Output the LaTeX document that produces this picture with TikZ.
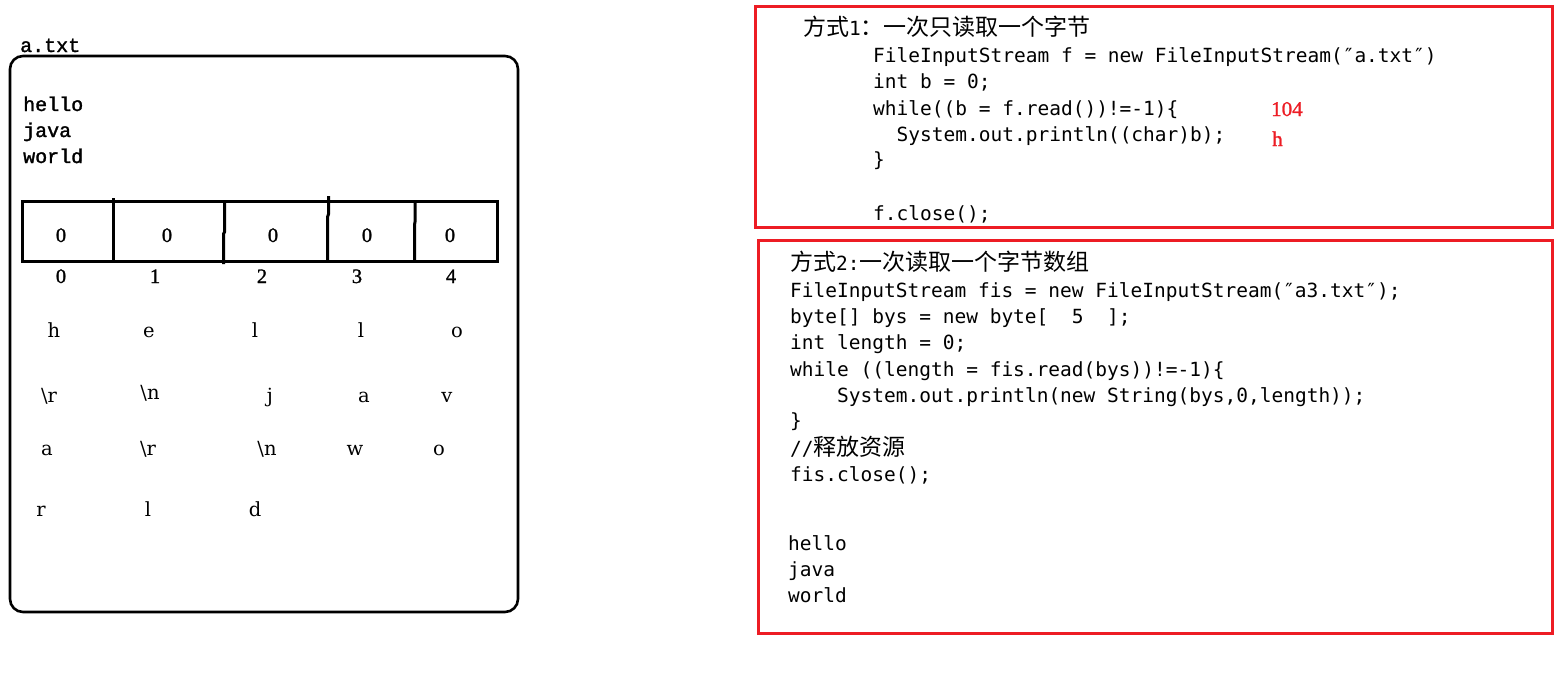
\documentclass[tikz,border=0pt]{standalone}
\usepackage{fontspec}
\newfontfamily\codef{DejaVu Sans Mono}
\newfontfamily\monof[FakeBold=1.5]{Liberation Mono}
\newfontfamily\serf[FakeBold=1.2]{Liberation Serif}
\newfontfamily\serl{DejaVu Serif}
\newfontfamily\cjkf{Noto Sans CJK SC}
\newcommand\zh[1]{{\cjkf\fontsize{23}{23}\selectfont #1}}
\definecolor{boxred}{RGB}{237,28,36}
\tikzset{
  code/.style={anchor=base west, inner sep=0pt, font=\codef\fontsize{19.5}{20}\selectfont},
  monotxt/.style={anchor=base west, inner sep=0pt, font=\monof\fontsize{20}{20}\selectfont},
  cell/.style={anchor=base, inner sep=0pt, font=\serf\fontsize{20.5}{20.5}\selectfont},
  letter/.style={anchor=base, inner sep=0pt, font=\serl\fontsize{19.5}{19.5}\selectfont},
  redtxt/.style={anchor=base west, inner sep=0pt, text=boxred, font=\serf\fontsize{21}{21}\selectfont},
  redbox/.style={draw=boxred, line width=3pt},
  filebox/.style={draw=black, line width=2.6pt, rounded corners=13pt},
  arr/.style={draw=black, line width=3pt},
}
\begin{document}
\begin{tikzpicture}[x=1pt,y=-1pt]
\useasboundingbox (0,0) rectangle (1561,688);
\fill[white] (0,0) rectangle (1561,688);

% ---------- left: file a.txt ----------
\node[monotxt] (fname) at (20,52) {a.txt};
\draw[filebox] (10,56) rectangle (518,612);
\node[monotxt] (t1) at (23,111) {hello};
\node[monotxt] (t2) at (23,137) {java};
\node[monotxt] (t3) at (23,163) {world};

% byte array
\draw[arr] (22,201) rectangle (497,261);
\draw[arr] (113.5,198) -- (113.5,261);
\draw[arr] (224.5,201) -- (224.5,232) -- (223.5,234) -- (223.5,264);
\draw[arr] (328.5,196) -- (328.5,214) -- (327.5,217) -- (327.5,261);
\draw[arr] (415,201) -- (415,222) -- (414.5,225) -- (414.5,261);

\node[cell] (z0) at (61,242) {0};
\node[cell] (z1) at (167,242) {0};
\node[cell] (z2) at (273,242) {0};
\node[cell] (z3) at (367,242) {0};
\node[cell] (z4) at (450,242) {0};

\node[cell] (i0) at (61,283) {0};
\node[cell] (i1) at (155,283) {1};
\node[cell] (i2) at (262,283) {2};
\node[cell] (i3) at (357,283) {3};
\node[cell] (i4) at (451,283) {4};

\node[letter] (a1) at (54,337) {h};
\node[letter] (a2) at (149,337) {e};
\node[letter] (a3) at (255,337) {l};
\node[letter] (a4) at (361,337) {l};
\node[letter] (a5) at (457,337) {o};

\node[letter] (b1) at (49,402) {\textbackslash r};
\node[letter] (b2) at (150,399) {\textbackslash n};
\node[letter] (b3) at (270,402) {j};
\node[letter] (b4) at (364,402) {a};
\node[letter] (b5) at (447,402) {v};

\node[letter] (c1) at (47,455) {a};
\node[letter] (c2) at (148,455) {\textbackslash r};
\node[letter] (c3) at (267,455) {\textbackslash n};
\node[letter] (c4) at (355,455) {w};
\node[letter] (c5) at (439,455) {o};

\node[letter] (d1) at (41,516) {r};
\node[letter] (d2) at (148,516) {l};
\node[letter] (d3) at (255,516) {d};

% ---------- right top: method 1 ----------
\draw[redbox] (755,6) rectangle (1552,227);
\node[code] (m1) at (803,35) {\zh{方式}1\zh{：一次只读取一个字节}};
\node[code] (m1a) at (873,62) {FileInputStream f = new FileInputStream(″a.txt″)};
\node[code] (m1b) at (873,88) {int b = 0;};
\node[code] (m1c) at (873,115) {while((b = f.read())!=-1)\{};
\node[code] (m1d) at (896.5,141) {System.out.println((char)b);};
\node[code] (m1e) at (873,166) {\}};
\node[code] (m1f) at (873,220) {f.close();};
\node[redtxt] (r104) at (1271,116) {104};
\node[redtxt] (rh) at (1272,146) {h};

% ---------- right bottom: method 2 ----------
\draw[redbox] (758,240) rectangle (1552,633);
\node[code] (m2) at (790,270) {\zh{方式}2:\zh{一次读取一个字节数组}};
\node[code] (m2a) at (790,297) {FileInputStream fis = new FileInputStream(″a3.txt″);};
\node[code] (m2b) at (790,323) {byte[] bys = new byte[~~5~~];};
\node[code] (m2c) at (790,349.5) {int length = 0;};
\node[code] (m2d) at (790,376) {while ((length = fis.read(bys))!=-1)\{};
\node[code] (m2e) at (837,402.5) {System.out.println(new String(bys,0,length));};
\node[code] (m2f) at (790,427) {\}};
\node[code] (m2g) at (790,455) {//\zh{释放资源}};
\node[code] (m2h) at (790,481.5) {fis.close();};
\node[code] (o1) at (788,550) {hello};
\node[code] (o2) at (788,576) {java};
\node[code] (o3) at (788,602) {world};
\end{tikzpicture}
\end{document}
